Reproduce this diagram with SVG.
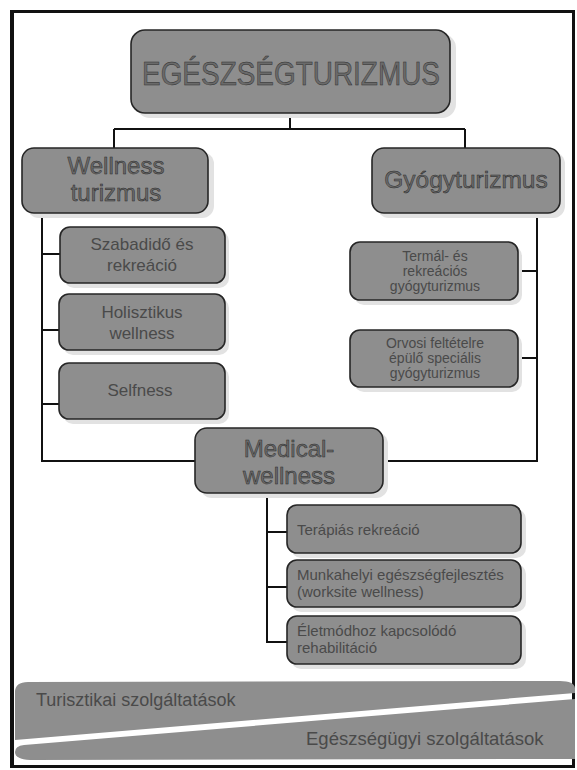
<svg xmlns="http://www.w3.org/2000/svg" width="577" height="770" viewBox="0 0 577 770">
<style>
.box{fill:#8e8e8e;stroke:#262626;stroke-width:1.6}
.sh{fill:#e2e2e2}
.t{font-family:"Liberation Sans",Arial,sans-serif;fill:#4a4a4a;text-anchor:middle}
.tl{font-family:"Liberation Sans",Arial,sans-serif;fill:#4a4a4a}
.big{stroke:#2a2a2a;stroke-width:0.5;fill:#6a6a6a}
.c{fill:none;stroke:#111;stroke-width:2}
.band{fill:#8e8e8e}
</style>
<rect x="0" y="0" width="577" height="770" fill="#fff"/>
<rect x="11.5" y="11.5" width="562" height="755" fill="none" stroke="#111" stroke-width="3"/>
<rect x="10" y="11" width="4" height="756" fill="#111"/>

<g id="connectors">
<path class="c" d="M290 113 V129 M114 129 H465 M114 129 V148 M465 129 V148"/>
<path class="c" d="M42 213 V461 H195 M42 254 H60 M42 330 H59 M42 404 H59"/>
<path class="c" d="M537 213 V461 H383 M518 271 H537 M518 358 H537"/>
<path class="c" d="M267 493 V642 H287 M267 532 H287 M267 587 H287"/>
</g>

<g id="n-egeszsegturizmus">
<rect class="sh" x="136" y="34" width="320" height="84" rx="14"/>
<rect class="box" x="131" y="30" width="319" height="83" rx="14"/>
<text class="t big" x="291" y="85" font-size="34" textLength="298" lengthAdjust="spacingAndGlyphs">EGÉSZSÉGTURIZMUS</text>
</g>

<g id="n-wellness">
<rect class="sh" x="27" y="152" width="187" height="66" rx="12"/>
<rect class="box" x="22" y="148" width="186" height="65" rx="12"/>
<text class="t big" x="116" y="174" font-size="24">Wellness</text>
<text class="t big" x="116" y="201" font-size="24">turizmus</text>
</g>

<g id="n-gyogyturizmus">
<rect class="sh" x="377" y="152" width="188" height="66" rx="12"/>
<rect class="box" x="372" y="148" width="188" height="65" rx="12"/>
<text class="t big" x="466" y="188" font-size="24.5">Gyógyturizmus</text>
</g>

<g id="n-szabadido">
<rect class="sh" x="64" y="231" width="165" height="57" rx="10"/>
<rect class="box" x="60" y="227" width="165" height="56" rx="10"/>
<text class="t" x="142" y="250" font-size="17">Szabadidő és</text>
<text class="t" x="142" y="271" font-size="17">rekreáció</text>
</g>

<g id="n-holisztikus">
<rect class="sh" x="63" y="298" width="166" height="57" rx="10"/>
<rect class="box" x="59" y="294" width="166" height="56" rx="10"/>
<text class="t" x="142" y="318" font-size="17">Holisztikus</text>
<text class="t" x="142" y="339" font-size="17">wellness</text>
</g>

<g id="n-selfness">
<rect class="sh" x="63" y="367" width="166" height="57" rx="10"/>
<rect class="box" x="59" y="363" width="166" height="56" rx="10"/>
<text class="t" x="140" y="396" font-size="17">Selfness</text>
</g>

<g id="n-termal">
<rect class="sh" x="354" y="246" width="168" height="59" rx="10"/>
<rect class="box" x="350" y="242" width="168" height="58" rx="10"/>
<text class="t" x="435" y="261" font-size="14">Termál- és</text>
<text class="t" x="435" y="276" font-size="14">rekreációs</text>
<text class="t" x="435" y="291" font-size="14">gyógyturizmus</text>
</g>

<g id="n-orvosi">
<rect class="sh" x="354" y="334" width="168" height="58" rx="10"/>
<rect class="box" x="350" y="330" width="168" height="57" rx="10"/>
<text class="t" x="435" y="348" font-size="14">Orvosi feltételre</text>
<text class="t" x="435" y="363" font-size="14">épülő speciális</text>
<text class="t" x="435" y="378" font-size="14">gyógyturizmus</text>
</g>

<g id="n-medical">
<rect class="sh" x="200" y="432" width="188" height="66" rx="12"/>
<rect class="box" x="195" y="428" width="188" height="65" rx="12"/>
<text class="t big" x="289" y="457" font-size="24">Medical-</text>
<text class="t big" x="289" y="484" font-size="24">wellness</text>
</g>

<g id="n-terapias">
<rect class="sh" x="291" y="509" width="235" height="49" rx="10"/>
<rect class="box" x="287" y="505" width="234" height="48" rx="10"/>
<text class="tl" x="297" y="535" font-size="15">Terápiás rekreáció</text>
</g>

<g id="n-munkahelyi">
<rect class="sh" x="291" y="564" width="235" height="48" rx="10"/>
<rect class="box" x="287" y="560" width="234" height="47" rx="10"/>
<text class="tl" x="297" y="580" font-size="15">Munkahelyi egészségfejlesztés</text>
<text class="tl" x="297" y="597" font-size="15">(worksite wellness)</text>
</g>

<g id="n-eletmod">
<rect class="sh" x="291" y="620" width="235" height="49" rx="10"/>
<rect class="box" x="287" y="616" width="234" height="48" rx="10"/>
<text class="tl" x="297" y="636" font-size="15">Életmódhoz kapcsolódó</text>
<text class="tl" x="297" y="653" font-size="15">rehabilitáció</text>
</g>

<g id="bands">
<path class="band" d="M15 692 Q15 682 28 682 L560 681 Q574 681 575 688 L575 693 L15 740 Z"/>
<path class="band" d="M15 752 Q15 746 24 745 L575 699 L575 759 L30 760 Q15 759 15 752 Z"/>
<text class="tl" x="36" y="706" font-size="18">Turisztikai szolgáltatások</text>
<text class="tl" x="306" y="745" font-size="18.5">Egészségügyi szolgáltatások</text>
</g>
</svg>
